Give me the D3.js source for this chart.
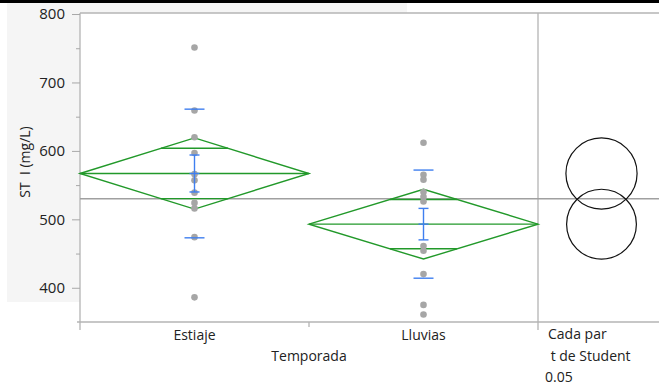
<!DOCTYPE html>
<html>
<head>
<meta charset="utf-8">
<script src="https://cdn.jsdelivr.net/npm/d3@7"></script>
<style>
  body { margin: 0; background: #fff; }
  text { font-family: "Open Sans", "Noto Sans", sans-serif; fill: #222; }
</style>
</head>
<body>
<svg id="chart" width="659" height="385"></svg>
<script>
const groups = ['Estiaje', 'Lluvias'];
const estiajeValues = [751, 659, 620, 597, 566, 557, 539, 524, 516, 474, 386];
const lluviasValues = [612, 565, 558, 540, 533, 526, 461, 454, 420, 375, 361];
// summary stats per group
const means = [567, 493];
const ciHalf = [52, 51];
const stdDev = [94, 79];
const stdErr = [27, 23];
const grandMean = 530;
const yTicks = [400, 500, 600, 700, 800];
const yMinorTicks = [450, 550, 650, 750];

const svg = d3.select('#chart');
const plotLeft = 80, plotRight = 538, plotTop = 13, plotBottom = 322, fullRight = 659;

const x = d3.scaleBand().domain(groups).range([plotLeft, plotRight]).padding(0);
const y = d3.scaleLinear().domain([350, 801.5]).range([plotBottom, plotTop]);

// background bits
svg.append('rect').attr('x', 0).attr('y', 0).attr('width', 659).attr('height', 3).attr('fill', '#000');
svg.append('rect').attr('x', 7).attr('y', 3).attr('width', 400).attr('height', 10).attr('fill', '#f5f5f5');
svg.append('rect').attr('x', 7).attr('y', 3).attr('width', plotLeft - 7).attr('height', 299).attr('fill', '#f5f5f5');
svg.append('rect').attr('x', plotLeft).attr('y', plotTop).attr('width', fullRight - plotLeft).attr('height', plotBottom - plotTop).attr('fill', '#fff');

// frame lines
const frame = svg.append('g').attr('stroke', '#b4b4b4').attr('stroke-width', 1.3);
frame.append('line').attr('x1', plotLeft).attr('x2', fullRight).attr('y1', plotTop).attr('y2', plotTop);
frame.append('line').attr('x1', plotLeft - 3).attr('x2', fullRight).attr('y1', plotBottom).attr('y2', plotBottom);
frame.append('line').attr('x1', plotLeft).attr('x2', plotLeft).attr('y1', plotTop).attr('y2', plotBottom + 8);
frame.append('line').attr('x1', plotRight).attr('x2', plotRight).attr('y1', plotTop).attr('y2', plotBottom + 8);
frame.append('line').attr('x1', plotLeft + x.bandwidth()).attr('x2', plotLeft + x.bandwidth()).attr('y1', plotBottom).attr('y2', plotBottom + 5);

// y axis
const yAxis = d3.axisLeft(y).tickValues(yTicks).tickSize(8).tickPadding(7);
const ya = svg.append('g').attr('transform', `translate(${plotLeft},0)`).call(yAxis);
ya.select('.domain').remove();
ya.selectAll('line').attr('stroke', '#a8a8a8');
ya.selectAll('text').style('font-size', '15px').style('fill', '#222').style('font-family', '"Open Sans", sans-serif');
const yMinor = d3.axisLeft(y).tickValues(yMinorTicks).tickSize(4).tickFormat('');
const ym = svg.append('g').attr('transform', `translate(${plotLeft},0)`).call(yMinor);
ym.select('.domain').remove();
ym.selectAll('line').attr('stroke', '#a8a8a8');

// y label
svg.append('text')
  .attr('transform', 'translate(30,162) rotate(-90)')
  .attr('text-anchor', 'middle')
  .style('font-size', '14px')
  .style('white-space', 'pre')
  .text('ST  I (mg/L)');

// x labels
svg.selectAll('.xlab').data(groups).enter().append('text')
  .attr('x', d => x(d) + x.bandwidth() / 2)
  .attr('y', 340)
  .attr('text-anchor', 'middle')
  .style('font-size', '14px')
  .text(d => d);
svg.append('text').attr('x', plotLeft + x.bandwidth()).attr('y', 361)
  .attr('text-anchor', 'middle').style('font-size', '14px').text('Temporada');
svg.append('text').attr('x', 548).attr('y', 339).style('font-size', '14px').text('Cada par');
svg.append('text').attr('x', 547).attr('y', 361).style('font-size', '14px').style('white-space', 'pre').text(' t de Student');
svg.append('text').attr('x', 545).attr('y', 382).style('font-size', '14px').text('0.05');

// grand mean line
svg.append('line').attr('x1', plotLeft).attr('x2', fullRight)
  .attr('y1', y(grandMean)).attr('y2', y(grandMean))
  .attr('stroke', '#a0a0a0').attr('stroke-width', 1.5);

const stats = groups.map((g, i) => ({ g, mean: means[i], ci: ciHalf[i], sd: stdDev[i], se: stdErr[i] }));
const green = '#22992a';
const blue = '#3f7ff0';

// mean diamonds
stats.forEach(s => {
  const x0 = x(s.g), x1 = x0 + x.bandwidth(), cx = x0 + x.bandwidth() / 2;
  const pts = [[x0, y(s.mean)], [cx, y(s.mean + s.ci)], [x1, y(s.mean)], [cx, y(s.mean - s.ci)]];
  svg.append('polygon').attr('points', pts.map(p => p.join(',')).join(' '))
    .attr('fill', 'none').attr('stroke', green).attr('stroke-width', 1.4);
  svg.append('line').attr('x1', x0).attr('x2', x1).attr('y1', y(s.mean)).attr('y2', y(s.mean))
    .attr('stroke', green).attr('stroke-width', 1.4);
  // overlap marks
  const off = s.ci / Math.SQRT2;
  const hw = (x.bandwidth() / 2) * (1 - 1 / Math.SQRT2);
  [s.mean + off, s.mean - off].forEach(v => {
    svg.append('line').attr('x1', cx - hw).attr('x2', cx + hw).attr('y1', y(v)).attr('y2', y(v))
      .attr('stroke', green).attr('stroke-width', 1.4);
  });
});

// points
const pointData = [];
estiajeValues.forEach(v => pointData.push({ g: 'Estiaje', v }));
lluviasValues.forEach(v => pointData.push({ g: 'Lluvias', v }));
svg.selectAll('circle.pt').data(pointData).enter().append('circle')
  .attr('class', 'pt')
  .attr('cx', d => x(d.g) + x.bandwidth() / 2)
  .attr('cy', d => y(d.v))
  .attr('r', 3.3)
  .attr('fill', '#a6a6a6');

// std dev and std error bars
stats.forEach(s => {
  const cx = x(s.g) + x.bandwidth() / 2;
  [s.mean + s.sd, s.mean - s.sd].forEach(v => {
    svg.append('line').attr('x1', cx - 10).attr('x2', cx + 10).attr('y1', y(v)).attr('y2', y(v))
      .attr('stroke', blue).attr('stroke-width', 1.4);
  });
  svg.append('line').attr('x1', cx).attr('x2', cx).attr('y1', y(s.mean + s.se)).attr('y2', y(s.mean - s.se))
    .attr('stroke', blue).attr('stroke-width', 1.4);
  [s.mean + s.se, s.mean, s.mean - s.se].forEach(v => {
    svg.append('line').attr('x1', cx - 5).attr('x2', cx + 5).attr('y1', y(v)).attr('y2', y(v))
      .attr('stroke', blue).attr('stroke-width', 1.4);
  });
});

// comparison circles
const circX = (plotRight + fullRight) / 2 + 3;
svg.selectAll('circle.cmp').data(stats).enter().append('circle')
  .attr('class', 'cmp')
  .attr('cx', circX)
  .attr('cy', d => y(d.mean))
  .attr('r', d => y(d.mean - d.ci) - y(d.mean))
  .attr('fill', 'none')
  .attr('stroke', '#111')
  .attr('stroke-width', 1.2);
</script>
</body>
</html>
